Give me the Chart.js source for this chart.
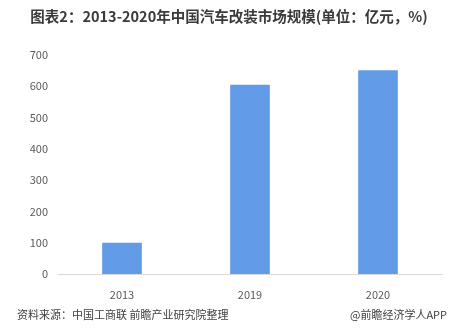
<!DOCTYPE html>
<html>
<head>
<meta charset="utf-8">
<script src="https://cdn.jsdelivr.net/npm/chart.js@4"></script>
<style>
  html, body { margin: 0; padding: 0; background: #fff; }
  #wrap { width: 462px; height: 333px; position: relative; }
</style>
</head>
<body>
<div id="wrap"><canvas id="myChart" width="462" height="333"></canvas></div>
<script>
// chart data
var years = ['2013', '2019', '2020'];
var marketSize = [100, 605, 651];
var yTicks = [0, 100, 200, 300, 400, 500, 600, 700];

var titleText = '图表2：2013-2020年中国汽车改装市场规模(单位：亿元，%)';
var sourceText = '资料来源：中国工商联 前瞻产业研究院整理';
var brandText = '@前瞻经济学人APP';

var fontFamily = '"Noto Sans CJK SC", "Microsoft YaHei", sans-serif';

// draws the title and the footer lines
var textPlugin = {
    id: 'texts',
    afterDraw: function (chart) {
        var c = chart.ctx;
        c.save();
        c.fillStyle = '#3a3a3a';
        c.font = 'bold 14.5px ' + fontFamily;
        c.textAlign = 'center';
        c.textBaseline = 'middle';
        c.fillText(titleText, 229, 16);

        c.font = '11px ' + fontFamily;
        c.fillStyle = '#404040';
        c.textAlign = 'left';
        c.fillText(sourceText, 17, 315);
        c.textAlign = 'right';
        c.fillText(brandText, 447, 315);
        c.restore();
    }
};

window.onload = function () {
    var ctx = document.getElementById('myChart').getContext('2d');
    var myChart = new Chart(ctx, {
        type: 'bar',
        data: {
            labels: years,
            datasets: [{
                label: '市场规模',
                data: marketSize,
                backgroundColor: '#629ce9',
                borderWidth: 0,
                barPercentage: 0.62,
                categoryPercentage: 0.5
            }]
        },
        options: {
            responsive: false,
            animation: false,
            layout: {
                padding: { left: 0, right: 20, top: 55, bottom: 29 }
            },
            plugins: {
                legend: { display: false },
                tooltip: { enabled: false }
            },
            scales: {
                x: {
                    grid: { display: false },
                    border: { display: true, color: '#d9d9d9', width: 1 },
                    ticks: {
                        color: '#595959',
                        font: { family: fontFamily, size: 11 },
                        padding: 6
                    },
                    afterFit: function (scale) { scale.height = 30; }
                },
                y: {
                    min: 0,
                    max: 700,
                    grid: { display: false, drawTicks: false },
                    border: { display: false },
                    afterBuildTicks: function (scale) {
                        scale.ticks = yTicks.map(function (v) { return { value: v }; });
                    },
                    ticks: {
                        color: '#595959',
                        font: { family: fontFamily, size: 11 },
                        padding: 10
                    },
                    afterFit: function (scale) { scale.width = 58; }
                }
            }
        },
        plugins: [textPlugin]
    });
};
</script>
</body>
</html>
